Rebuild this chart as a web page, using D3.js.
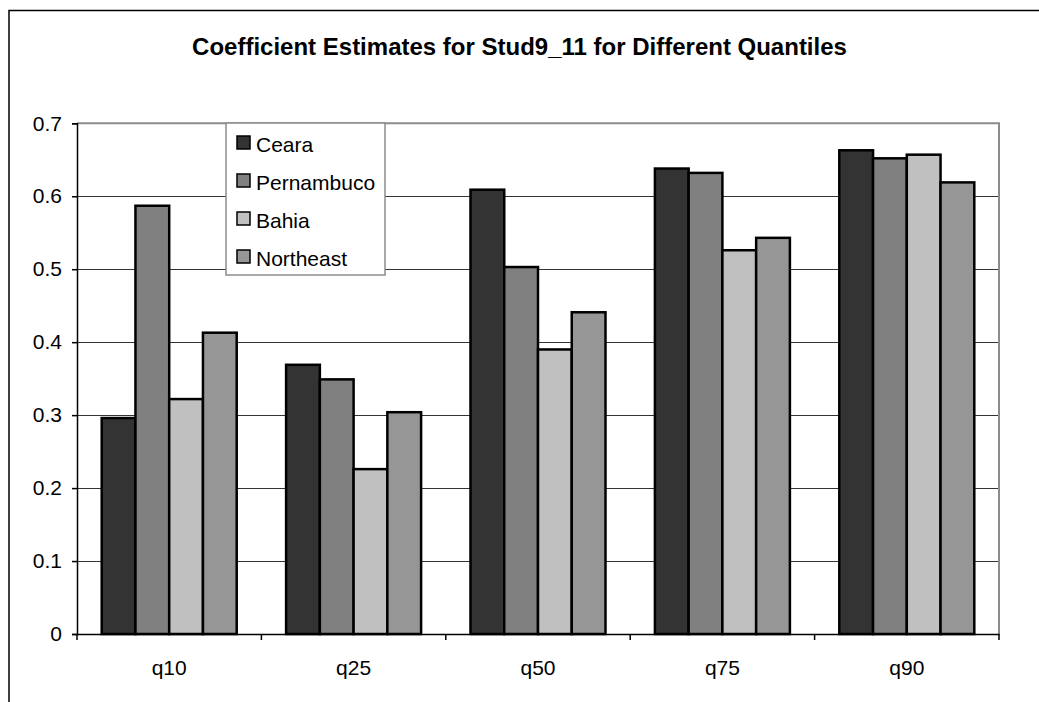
<!DOCTYPE html>
<html>
<head>
<meta charset="utf-8">
<script src="https://cdn.jsdelivr.net/npm/d3@7"></script>
<style>
  body { margin: 0; background: #fff; }
  svg { display: block; font-family: "Liberation Sans", Arial, sans-serif; }
</style>
</head>
<body>
<svg id="chart" width="1039" height="702"></svg>
<script>
const quantiles = ["q10", "q25", "q50", "q75", "q90"];
const regions = ["Ceara", "Pernambuco", "Bahia", "Northeast"];
const ceara = [0.296, 0.369, 0.609, 0.638, 0.663];
const pernambuco = [0.587, 0.349, 0.503, 0.632, 0.652];
const bahia = [0.322, 0.226, 0.390, 0.526, 0.657];
const northeast = [0.413, 0.304, 0.441, 0.543, 0.619];
const yTicks = [0, 0.1, 0.2, 0.3, 0.4, 0.5, 0.6, 0.7];
const title = "Coefficient Estimates for Stud9_11 for Different Quantiles";

const seriesValues = [ceara, pernambuco, bahia, northeast];
const colors = ["#333333", "#808080", "#c0c0c0", "#969696"];

const svg = d3.select("#chart");
const plotLeft = 77, plotRight = 999, plotTop = 123.3, plotBottom = 634;

// outer chart frame (runs off the picture right and bottom)
svg.append("rect")
    .attr("x", 9).attr("y", 10.5)
    .attr("width", 1100).attr("height", 800)
    .attr("fill", "white")
    .attr("stroke", "black")
    .attr("stroke-width", 1.5);

svg.append("text")
    .attr("x", 519.5).attr("y", 55)
    .attr("text-anchor", "middle")
    .attr("font-weight", "bold")
    .attr("font-size", 24)
    .text(title);

const x0 = d3.scaleBand().domain(quantiles).range([plotLeft, plotRight]).padding(0);
const inset = 24.7;
const x1 = d3.scaleBand().domain(regions).range([inset, x0.bandwidth() - inset]).padding(0);
const y = d3.scaleLinear().domain([0, 0.7]).range([plotBottom, plotTop]);

// gridlines
svg.append("g")
    .selectAll("line")
    .data(yTicks.slice(1, -1))
    .enter()
    .append("line")
    .attr("x1", plotLeft).attr("x2", plotRight)
    .attr("y1", d => Math.round(y(d)) + 0.5)
    .attr("y2", d => Math.round(y(d)) + 0.5)
    .attr("stroke", "#333")
    .attr("stroke-width", 1.2);

// plot frame top/right
svg.append("path")
    .attr("d", `M${plotLeft},${plotTop} H${plotRight} V${plotBottom}`)
    .attr("fill", "none")
    .attr("stroke", "#8c8c8c")
    .attr("stroke-width", 2);

// bars
const groups = svg.append("g")
    .selectAll("g")
    .data(quantiles)
    .enter()
    .append("g")
    .attr("transform", d => `translate(${x0(d)},0)`);

groups.selectAll("rect")
    .data((q, qi) => regions.map((r, ri) => ({ region: r, value: seriesValues[ri][qi], color: colors[ri] })))
    .enter()
    .append("rect")
    .attr("x", d => x1(d.region))
    .attr("y", d => y(d.value))
    .attr("width", x1.bandwidth())
    .attr("height", d => plotBottom - y(d.value))
    .attr("fill", d => d.color)
    .attr("stroke", "black")
    .attr("stroke-width", 2.5);

// axes
const yAxis = svg.append("g")
    .attr("transform", `translate(${plotLeft},0)`)
    .call(d3.axisLeft(y).tickValues(yTicks).tickFormat(d3.format("")).tickSize(5).tickPadding(10));
yAxis.select(".domain").attr("stroke", "black").attr("stroke-width", 1.5);
yAxis.selectAll(".tick line").attr("stroke", "black").attr("stroke-width", 1.5);
yAxis.selectAll("text").attr("font-size", 21).attr("fill", "black")
    .attr("font-family", "Liberation Sans, Arial, sans-serif");

const xAxis = svg.append("g")
    .attr("transform", `translate(0,${plotBottom})`)
    .call(d3.axisBottom(x0).tickSize(0).tickPadding(26));
xAxis.select(".domain").attr("stroke", "black").attr("stroke-width", 1.5);
xAxis.selectAll("text").attr("font-size", 21).attr("fill", "black")
    .attr("font-family", "Liberation Sans, Arial, sans-serif");

// category separators
const sepPos = quantiles.map(q => x0(q)).concat([plotRight]);
svg.append("g")
    .selectAll("line")
    .data(sepPos)
    .enter()
    .append("line")
    .attr("x1", d => d).attr("x2", d => d)
    .attr("y1", plotBottom).attr("y2", plotBottom + 6)
    .attr("stroke", "black")
    .attr("stroke-width", 1.5);

// legend
const legend = svg.append("g").attr("transform", "translate(226,123)");
legend.append("rect")
    .attr("width", 159).attr("height", 152)
    .attr("fill", "white")
    .attr("stroke", "#8c8c8c")
    .attr("stroke-width", 1.5);

const items = legend.selectAll("g.item")
    .data(regions)
    .enter()
    .append("g")
    .attr("class", "item")
    .attr("transform", (d, i) => `translate(11,${13 + i * 38})`);

items.append("rect")
    .attr("width", 13).attr("height", 13)
    .attr("fill", (d, i) => colors[i])
    .attr("stroke", "black")
    .attr("stroke-width", 1.5);

items.append("text")
    .attr("x", 19).attr("y", 15.5)
    .attr("font-size", 21)
    .text(d => d);
</script>
</body>
</html>
